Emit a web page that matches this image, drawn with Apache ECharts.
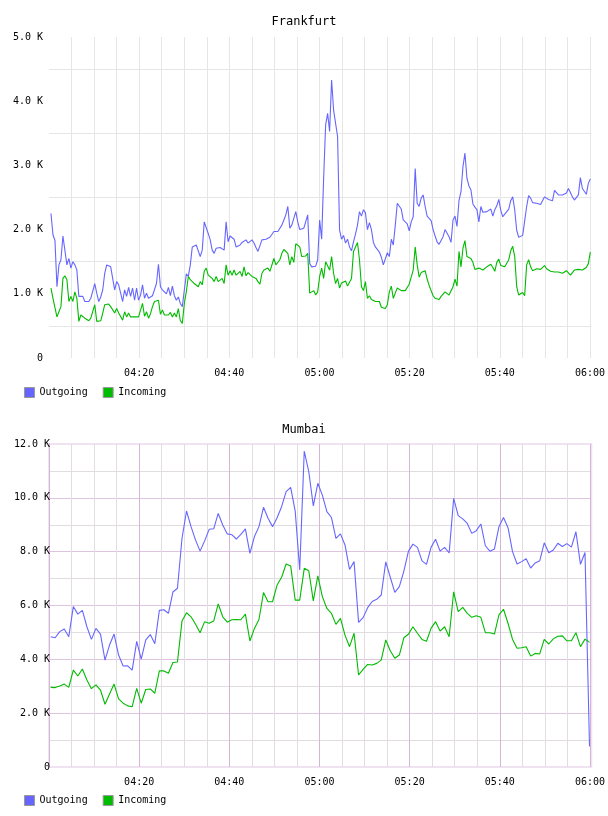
<!DOCTYPE html>
<html>
<head>
<meta charset="utf-8">
<title>Traffic</title>
<script src="https://cdn.jsdelivr.net/npm/echarts@6/dist/echarts.min.js"></script>
<style>
  html, body { margin: 0; padding: 0; background: #fff; }
  .chart { width: 608px; height: 408px; }
</style>
</head>
<body>
<div id="frankfurt" class="chart"></div>
<div id="mumbai" class="chart"></div>
<script>
// Frankfurt, values in K, one sample every ~26 s
var frankfurtOutgoing = [
  2.25,1.92,1.83,1.11,1.45,1.53,1.90,1.90,1.45,1.55,
  1.40,1.50,1.45,1.37,0.96,0.93,0.96,0.88,0.91,0.88,
  0.93,0.96,1.16,1.01,0.88,0.95,1.06,1.32,1.45,1.42,
  1.42,1.24,1.06,1.19,1.14,1.01,0.88,1.06,0.96,1.10,
  0.96,1.09,0.90,1.09,0.90,0.98,1.14,0.93,1.01,0.93,
  0.96,0.97,1.00,1.16,1.46,1.11,1.06,1.09,1.00,1.10,
  0.97,1.12,0.97,0.90,0.95,0.85,0.80,1.06,1.31,1.27,
  1.45,1.73,1.76,1.76,1.73,1.58,1.68,2.12,2.12,1.94,
  1.84,1.68,1.63,1.71,1.68,1.72,1.70,1.68,2.12,1.81,
  1.90,1.93,1.85,1.73,1.76,1.76,1.80,1.81,1.84,1.79,
  1.81,1.84,1.79,1.72,1.66,1.68,1.84,1.86,1.85,1.86,
  1.88,1.88,1.97,1.99,1.97,1.94,2.07,2.15,2.23,2.36,
  2.02,2.07,2.04,2.28,2.12,2.00,1.99,2.02,2.04,2.23,
  1.47,1.42,1.45,1.43,1.53,2.15,1.85,2.80,3.63,
  3.81,3.53,4.33,3.86,3.89,3.45,1.99,1.85,1.91,1.79,
  1.85,1.73,1.67,1.81,1.93,2.07,2.28,2.21,2.31,2.26,
  2.00,2.11,2.00,1.80,1.73,1.72,1.65,1.57,1.45,1.45,
  1.64,1.58,1.85,1.76,2.07,2.41,2.38,2.32,2.15,2.15,
  2.09,1.98,2.12,2.20,2.95,2.41,2.36,2.49,2.54,2.36,
  2.21,2.21,2.14,2.00,1.90,1.81,1.77,1.80,1.89,2.00,
  2.00,1.89,1.80,2.15,2.21,2.05,2.45,2.59,2.98,3.19,
  2.80,2.68,2.62,2.40,2.35,2.31,2.12,2.36,2.27,2.25,
  2.28,2.26,2.32,2.21,2.31,2.37,2.47,2.30,2.20,2.24,
  2.26,2.32,2.45,2.51,2.31,1.99,1.88,1.90,1.91,1.88,
  2.36,2.53,2.49,2.42,2.45,2.41,2.40,2.39,2.42,2.51,
  2.50,2.47,2.44,2.45,2.61,2.59,2.54,2.52,2.54,2.57,
  2.57,2.64,2.64,2.51,2.46,2.44,2.54,2.81,2.64,2.67,
  2.55,2.72,2.79
];
var frankfurtIncoming = [
  1.09,0.93,0.90,0.64,0.72,0.80,1.24,1.28,1.22,0.88,
  0.96,0.88,1.03,0.93,0.57,0.67,0.64,0.62,0.59,0.58,
  0.62,0.62,0.83,0.57,0.58,0.58,0.70,0.83,0.85,0.84,
  0.80,0.83,0.70,0.77,0.70,0.67,0.59,0.72,0.64,0.70,
  0.64,0.67,0.64,0.67,0.64,0.65,0.85,0.65,0.72,0.62,
  0.69,0.80,0.88,0.88,0.90,0.68,0.75,0.67,0.69,0.67,
  0.71,0.64,0.70,0.64,0.77,0.58,0.54,0.85,1.03,1.27,
  1.22,1.24,1.16,1.19,1.11,1.19,1.14,1.35,1.40,1.29,
  1.32,1.24,1.19,1.27,1.19,1.19,1.24,1.16,1.45,1.29,
  1.36,1.29,1.37,1.29,1.27,1.35,1.27,1.42,1.28,1.33,
  1.31,1.27,1.24,1.24,1.19,1.15,1.32,1.37,1.40,1.40,
  1.35,1.37,1.55,1.45,1.42,1.53,1.63,1.69,1.72,1.63,
  1.45,1.58,1.49,1.78,1.81,1.73,1.58,1.60,1.59,1.63,
  1.01,1.03,1.05,0.98,1.03,1.27,1.40,1.24,1.50,
  1.50,1.37,1.58,1.32,1.16,1.24,1.09,1.17,1.16,1.20,
  1.12,1.09,1.24,1.66,1.64,1.80,1.53,1.11,1.05,1.19,
  0.93,0.97,0.91,0.93,0.88,0.90,0.88,0.79,0.80,0.77,
  0.83,1.03,1.12,0.93,1.01,1.09,1.09,1.05,1.05,1.05,
  1.06,1.15,1.16,1.37,1.73,1.45,1.26,1.33,1.31,1.36,
  1.23,1.13,1.05,0.97,0.93,0.91,0.91,0.96,0.99,1.03,
  1.04,0.98,1.00,1.11,1.23,1.12,1.66,1.42,1.71,1.83,
  1.58,1.55,1.55,1.49,1.38,1.37,1.40,1.41,1.37,1.39,
  1.42,1.42,1.46,1.41,1.35,1.49,1.54,1.44,1.42,1.42,
  1.41,1.53,1.67,1.74,1.58,1.11,0.98,0.97,1.02,0.97,
  1.45,1.53,1.42,1.36,1.36,1.39,1.39,1.38,1.38,1.44,
  1.39,1.42,1.35,1.37,1.34,1.33,1.34,1.33,1.32,1.35,
  1.36,1.38,1.29,1.27,1.37,1.36,1.38,1.36,1.37,1.38,
  1.41,1.47,1.65
];
// Mumbai, values in K, one sample a minute
var mumbaiOutgoing = [
  4.84,4.80,5.03,5.13,4.84,5.96,5.68,5.82,5.21,4.74,
  5.15,4.94,3.97,4.53,4.94,4.16,3.75,3.76,3.60,4.67,
  4.01,4.72,4.92,4.58,5.82,5.84,5.71,6.50,6.64,8.49,
  9.51,8.93,8.43,8.02,8.40,8.83,8.85,9.42,8.99,8.66,
  8.63,8.47,8.64,8.85,7.94,8.56,8.93,9.65,9.24,8.93,
  9.26,9.67,10.23,10.39,9.51,7.32,11.74,10.97,9.70,10.54,
  10.10,9.49,9.27,8.49,8.66,8.25,7.34,7.63,5.37,5.55,
  5.92,6.15,6.23,6.39,7.62,7.05,6.49,6.70,7.28,8.01,
  8.28,8.16,7.66,7.53,8.16,8.46,8.02,8.16,7.95,9.98,
  9.34,9.22,9.05,8.68,8.78,9.03,8.22,8.02,8.10,8.93,
  9.27,8.89,8.00,7.54,7.63,7.74,7.39,7.58,7.66,8.33,
  7.96,8.06,8.31,8.19,8.30,8.17,8.74,7.53,7.97,0.76
];
var mumbaiIncoming = [
  2.96,2.95,3.01,3.08,2.96,3.60,3.38,3.64,3.23,2.91,
  3.05,2.86,2.33,2.71,3.08,2.53,2.37,2.27,2.24,2.92,
  2.37,2.88,2.90,2.74,3.57,3.57,3.48,3.88,3.90,5.42,
  5.73,5.58,5.30,4.99,5.40,5.34,5.42,6.06,5.58,5.38,
  5.47,5.48,5.47,5.68,4.68,5.15,5.48,6.48,6.14,6.14,
  6.76,7.05,7.54,7.47,6.20,6.20,7.38,7.29,6.17,7.10,
  6.33,5.89,5.71,5.30,5.52,4.90,4.47,4.97,3.42,3.63,
  3.81,3.79,3.85,3.97,4.72,4.32,4.04,4.16,4.80,4.93,
  5.21,4.97,4.74,4.67,5.15,5.40,5.05,5.21,4.84,6.51,
  5.77,5.93,5.71,5.56,5.62,5.56,4.99,4.99,4.94,5.65,
  5.86,5.34,4.74,4.41,4.43,4.47,4.12,4.22,4.20,4.74,
  4.57,4.76,4.86,4.87,4.69,4.69,4.99,4.47,4.75,4.63
];
var seriesNames = ['Outgoing', 'Incoming'];
var seriesColors = ['#6666ff', '#00bb00'];

// times are minutes after 04:00
var frankfurtStart = 0.44, frankfurtStep = 0.4415;
var mumbaiStart = 0.37, mumbaiStep = 1.0045;
var axisEnd = 120.3;

var FONT = 'DejaVu Sans Mono';

function toPoints(values, start, step) {
  return values.map(function (v, i) {
    return [start + i * step, v];
  });
}

function timeLabel(v) {
  var m = Math.round(v);
  if (Math.abs(v - m) > 0.01 || m === 0 || m % 20 !== 0) return '';
  var h = 4 + Math.floor(m / 60);
  var mm = m % 60;
  return '0' + h + ':' + (mm < 10 ? '0' + mm : mm);
}

function kLabel(v) {
  return v === 0 ? '0' : v.toFixed(1) + ' K';
}

function lineSeries(name, idx, data, xAxisIndex) {
  return {
    name: name,
    type: 'line',
    xAxisIndex: xAxisIndex || 0,
    data: data,
    symbol: 'none',
    showSymbol: false,
    silent: true,
    lineStyle: { width: 1.1, color: seriesColors[idx] },
    itemStyle: { color: seriesColors[idx] }
  };
}

function baseOption(title) {
  return {
    animation: false,
    title: {
      text: title,
      left: 'center',
      top: 11,
      textStyle: { fontFamily: FONT, fontSize: 12, fontWeight: 'normal', color: '#000' }
    },
    legend: {
      left: 19,
      top: 382,
      icon: 'rect',
      itemWidth: 10,
      itemHeight: 10,
      itemGap: 15,
      data: seriesNames,
      itemStyle: { borderColor: '#999', borderWidth: 1 },
      textStyle: { fontFamily: FONT, fontSize: 10, color: '#000' }
    }
  };
}

// Frankfurt
var frankfurtChart = echarts.init(document.getElementById('frankfurt'));
var frankfurtOption = baseOption('Frankfurt');
frankfurtOption.grid = { left: 49, right: 14, top: 37, height: 321 };
frankfurtOption.xAxis = {
  type: 'value',
  min: 0,
  max: axisEnd,
  interval: 5,
  axisLine: { show: false },
  axisTick: { show: false },
  axisLabel: { formatter: timeLabel, margin: 10, fontFamily: FONT, fontSize: 10, color: '#000' },
  splitLine: { show: true, showMinLine: false, showMaxLine: false, lineStyle: { color: '#e6e6e6' } }
};
frankfurtOption.yAxis = {
  type: 'value',
  min: 0,
  max: 5,
  interval: 1,
  axisLine: { show: false },
  axisTick: { show: false },
  axisLabel: { formatter: kLabel, margin: 6, fontFamily: FONT, fontSize: 10, color: '#000' },
  splitLine: { show: false },
  minorTick: { show: false, splitNumber: 2 },
  minorSplitLine: { show: true, lineStyle: { color: '#e6e6e6' } }
};
frankfurtOption.series = [
  lineSeries('Outgoing', 0, toPoints(frankfurtOutgoing, frankfurtStart, frankfurtStep)),
  lineSeries('Incoming', 1, toPoints(frankfurtIncoming, frankfurtStart, frankfurtStep))
];
frankfurtChart.setOption(frankfurtOption);

// Mumbai
var mumbaiChart = echarts.init(document.getElementById('mumbai'));
var mumbaiOption = baseOption('Mumbai');
mumbaiOption.grid = {
  left: 49, right: 14, top: 36, height: 323,
  show: true, borderColor: '#f0e2f0', borderWidth: 2
};
mumbaiOption.xAxis = [{
  // 5 minute lines
  type: 'value',
  position: 'bottom',
  min: 0,
  max: axisEnd,
  interval: 5,
  axisLine: { show: false },
  axisTick: { show: false },
  axisLabel: { show: false },
  splitLine: { show: true, showMinLine: false, showMaxLine: false, lineStyle: { color: '#e2dde2' } }
}, {
  // 20 minute lines with labels
  type: 'value',
  position: 'bottom',
  min: 0,
  max: axisEnd,
  interval: 20,
  axisLine: { show: false },
  axisTick: { show: false },
  axisLabel: { formatter: timeLabel, margin: 10, fontFamily: FONT, fontSize: 10, color: '#000' },
  splitLine: { show: true, showMinLine: false, showMaxLine: false, lineStyle: { color: '#d6b6d6' } }
}];
mumbaiOption.yAxis = {
  type: 'value',
  min: 0,
  max: 12,
  interval: 2,
  axisLine: { show: true, lineStyle: { color: '#d6b6d6' } },
  axisTick: { show: false },
  axisLabel: { formatter: kLabel, margin: -1, fontFamily: FONT, fontSize: 10, color: '#000' },
  splitLine: { show: true, showMinLine: false, showMaxLine: false, lineStyle: { color: '#dfc4df' } },
  minorTick: { show: false, splitNumber: 2 },
  minorSplitLine: { show: true, lineStyle: { color: '#e0dce0' } }
};
mumbaiOption.series = [
  lineSeries('Outgoing', 0, toPoints(mumbaiOutgoing, mumbaiStart, mumbaiStep), 1),
  lineSeries('Incoming', 1, toPoints(mumbaiIncoming, mumbaiStart, mumbaiStep), 1)
];
mumbaiChart.setOption(mumbaiOption);
</script>
</body>
</html>
